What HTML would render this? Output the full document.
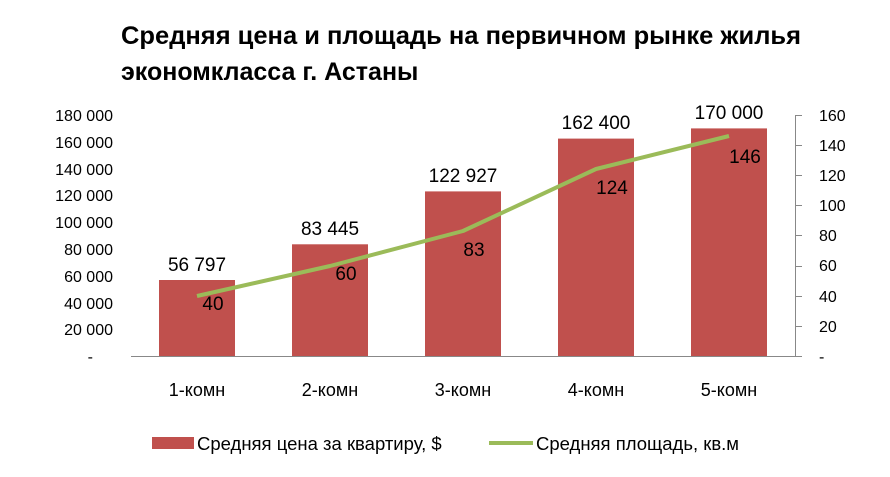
<!DOCTYPE html>
<html><head><meta charset="utf-8"><style>
body{margin:0;background:#fff;}
svg{display:block;font-family:"Liberation Sans",sans-serif;}
</style></head><body>
<svg width="890" height="477" viewBox="0 0 890 477">
<text x="121" y="44" font-size="25" font-weight="bold" fill="#000" textLength="680" lengthAdjust="spacingAndGlyphs">Средняя цена и площадь на первичном рынке жилья</text>
<text x="121" y="80" font-size="25" font-weight="bold" fill="#000">экономкласса г. Астаны</text>
<g font-size="16" fill="#000" text-anchor="end">
<text x="113" y="121">180 000</text>
<text x="113" y="148">160 000</text>
<text x="113" y="175">140 000</text>
<text x="113" y="201">120 000</text>
<text x="113" y="228">100 000</text>
<text x="113" y="255">80 000</text>
<text x="113" y="282">60 000</text>
<text x="113" y="309">40 000</text>
<text x="113" y="335">20 000</text>
<text x="93" y="362">-</text>
</g>
<g font-size="16" fill="#000">
<text x="819" y="121">160</text>
<text x="819" y="151">140</text>
<text x="819" y="181">120</text>
<text x="819" y="211">100</text>
<text x="819" y="241">80</text>
<text x="819" y="271">60</text>
<text x="819" y="302">40</text>
<text x="819" y="332">20</text>
<text x="819" y="362">-</text>
</g>
<g stroke="#888" stroke-width="1">
<line x1="131" y1="356.5" x2="802" y2="356.5"/>
<line x1="795.5" y1="115" x2="795.5" y2="357"/>
<line x1="795" y1="115.5" x2="802" y2="115.5"/>
<line x1="795" y1="145.5" x2="802" y2="145.5"/>
<line x1="795" y1="175.5" x2="802" y2="175.5"/>
<line x1="795" y1="205.5" x2="802" y2="205.5"/>
<line x1="795" y1="235.5" x2="802" y2="235.5"/>
<line x1="795" y1="266.5" x2="802" y2="266.5"/>
<line x1="795" y1="296.5" x2="802" y2="296.5"/>
<line x1="795" y1="326.5" x2="802" y2="326.5"/>
</g>
<g fill="#C0504D">
<rect x="159" y="280" width="76" height="76"/>
<rect x="292" y="244.3" width="76" height="111.7"/>
<rect x="425" y="191.4" width="76" height="164.6"/>
<rect x="558" y="138.6" width="76" height="217.4"/>
<rect x="691" y="128.4" width="76" height="227.6"/>
</g>
<polyline points="197,296 330,266 463,231 596,169 729,136" fill="none" stroke="#9BBB59" stroke-width="4" stroke-linejoin="round"/>
<g font-size="19" fill="#000" text-anchor="middle">
<text x="197" y="271">56 797</text>
<text x="330" y="235">83 445</text>
<text x="463" y="182">122 927</text>
<text x="596" y="129">162 400</text>
<text x="729" y="119">170 000</text>
<text x="213" y="310">40</text>
<text x="346" y="280">60</text>
<text x="474" y="256">83</text>
<text x="612" y="194">124</text>
<text x="745" y="163">146</text>
</g>
<g font-size="18" fill="#000" text-anchor="middle">
<text x="197" y="396">1-комн</text>
<text x="330" y="396">2-комн</text>
<text x="463" y="396">3-комн</text>
<text x="596" y="396">4-комн</text>
<text x="729" y="396">5-комн</text>
</g>
<rect x="152" y="437" width="42" height="12" fill="#C0504D"/>
<text x="197" y="450" font-size="18.5" fill="#000">Средняя цена за квартиру, $</text>
<line x1="489" y1="443" x2="533" y2="443" stroke="#9BBB59" stroke-width="4"/>
<text x="536" y="450" font-size="18.5" fill="#000">Средняя площадь, кв.м</text>
</svg>
</body></html>
